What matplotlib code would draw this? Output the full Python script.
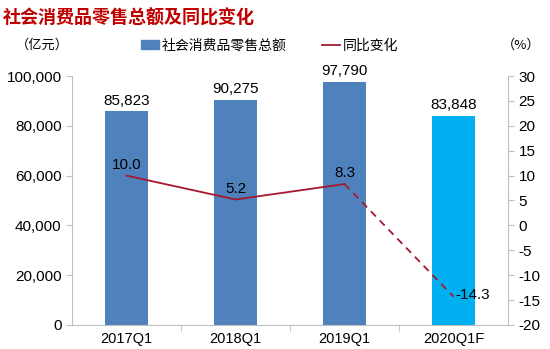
import matplotlib.pyplot as plt
from matplotlib.lines import Line2D
from matplotlib.patches import Patch
from matplotlib.ticker import FuncFormatter

plt.rcParams["font.family"] = ["Liberation Sans", "Noto Sans CJK SC", "DejaVu Sans"]
plt.rcParams["axes.unicode_minus"] = False

quarters = ["2017Q1", "2018Q1", "2019Q1", "2020Q1F"]
sales = [85823, 90275, 97790, 83848]
growth = [10.0, 5.2, 8.3, -14.3]

bar_colors = ["#4F81BD", "#4F81BD", "#4F81BD", "#00B0F0"]
line_color = "#A5182E"
grid_color = "#BFBFBF"

fig = plt.figure(figsize=(5.5, 3.49), dpi=100)
ax = fig.add_axes([72 / 550, 24 / 349, 436 / 550, 249 / 349])

x = list(range(len(quarters)))
ax.bar(x, sales, width=0.4, color=bar_colors, zorder=2)
for xi, v in zip(x, sales):
    ax.text(xi, v + 1500, f"{v:,}", ha="center", va="bottom", fontsize=11)

ax.set_xlim(-0.5, len(quarters) - 0.5)
ax.set_ylim(0, 100000)
ax.set_yticks(range(0, 100001, 20000))
ax.yaxis.set_major_formatter(FuncFormatter(lambda v, _: f"{int(v):,}"))
ax.set_xticks(x)
ax.set_xticklabels(quarters)
ax.set_xticks([i + 0.5 for i in x[:-1]], minor=True)
ax.tick_params(axis="x", which="major", length=0, labelsize=10.5, pad=5)
ax.tick_params(axis="x", which="minor", length=4, color=grid_color)
ax.tick_params(axis="y", length=4, color=grid_color, labelsize=11)
for side in ["top", "right"]:
    ax.spines[side].set_visible(False)
for side in ["left", "bottom"]:
    ax.spines[side].set_color(grid_color)

ax2 = ax.twinx()
ax2.set_ylim(-20, 30)
ax2.set_yticks(range(-20, 31, 5))
ax2.tick_params(axis="y", length=4, color=grid_color, labelsize=11)
for side in ["top", "left", "bottom"]:
    ax2.spines[side].set_visible(False)
ax2.spines["right"].set_color(grid_color)

# actual values solid, forecast segment dashed
ax2.plot(x[:3], growth[:3], color=line_color, lw=1.3, zorder=3)
ax2.plot(x[2:], growth[2:], color=line_color, lw=1.3, ls=(0, (4, 3)), zorder=3)
for xi, g in zip(x[:3], growth[:3]):
    ax2.text(xi, g + 0.8, f"{g:.1f}", ha="center", va="bottom", fontsize=11)
ax2.text(x[3] + 0.02, growth[3] + 0.3, f"{growth[3]:.1f}", ha="left",
         va="center", fontsize=11)

fig.text(0.005, 0.975, "社会消费品零售总额及同比变化", color="#C00000",
         fontsize=13, fontweight="bold", family=["Noto Sans CJK SC"],
         ha="left", va="top")
fig.text(0.028, 0.87, "（亿元）", fontsize=9.5, family=["Noto Sans CJK SC"],
         ha="left", va="center")
fig.text(0.912, 0.87, "（%）", fontsize=9.5, family=["Noto Sans CJK SC"],
         ha="left", va="center")

handles = [
    Patch(color="#4F81BD"),
    Line2D([0], [0], color=line_color, lw=1.3),
]
fig.legend(handles, ["社会消费品零售总额", "同比变化"], loc="center",
           bbox_to_anchor=(0.49, 0.87), ncol=2, frameon=False,
           prop={"family": "Noto Sans CJK SC", "size": 10},
           handlelength=1.3, handleheight=0.6, columnspacing=2.5,
           handletextpad=0.2)

fig.savefig("out.png", dpi=100)
